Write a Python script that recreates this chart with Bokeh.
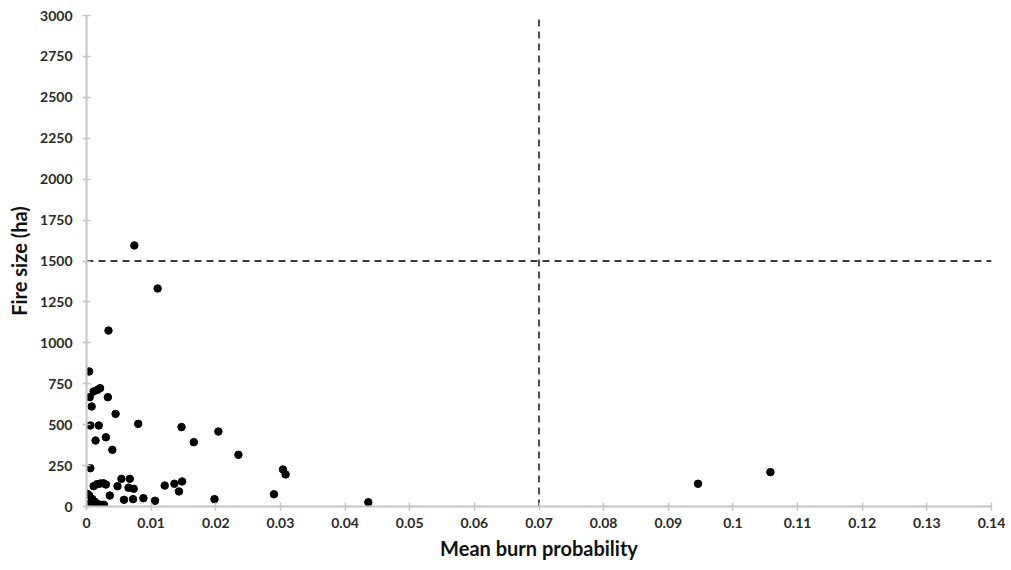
from bokeh.plotting import figure
from bokeh.models import Range1d, FixedTicker, ColumnDataSource
from bokeh.embed import file_html
from bokeh.resources import INLINE

# ---- data ----
burn_prob = [
    0.0004, 0.0005, 0.0011, 0.0017, 0.0021, 0.0033, 0.0008, 0.0045, 0.0006, 0.0019,
    0.0080, 0.0014, 0.0030, 0.0040, 0.0006, 0.0147, 0.0166, 0.0204, 0.0235, 0.0074,
    0.0110, 0.0034,
    0.0001, 0.0004, 0.0011, 0.0016, 0.0021, 0.0026, 0.0030, 0.0036, 0.0048, 0.0054,
    0.0067, 0.0065, 0.0073, 0.0058, 0.0072, 0.0088, 0.0106, 0.0121, 0.0136, 0.0143,
    0.0148, 0.0198, 0.0290, 0.0304, 0.0308, 0.0436, 0.0946, 0.1058,
    0.0000, 0.0005, 0.0009, 0.0013, 0.0018, 0.0024, 0.0027,
]
fire_size = [
    825, 668, 703, 713, 723, 668, 611, 566, 495, 495,
    505, 403, 423, 346, 234, 485, 393, 458, 316, 1595,
    1332, 1075,
    78, 68, 124, 136, 140, 142, 134, 67, 124, 169,
    169, 115, 108, 41, 45, 51, 35, 128, 139, 92,
    153, 45, 75, 226, 196, 26, 139, 210,
    14, 16, 45, 28, 14, 10, 10,
]

threshold_prob = 0.07
threshold_size = 1500

x_ticks = [0, 0.01, 0.02, 0.03, 0.04, 0.05, 0.06, 0.07, 0.08, 0.09, 0.1, 0.11, 0.12, 0.13, 0.14]
x_tick_labels = ["0", "0.01", "0.02", "0.03", "0.04", "0.05", "0.06", "0.07",
                 "0.08", "0.09", "0.1", "0.11", "0.12", "0.13", "0.14"]
y_ticks = [0, 250, 500, 750, 1000, 1250, 1500, 1750, 2000, 2250, 2500, 2750, 3000]

x_min, x_max = 0, 0.14
y_min, y_max = 0, 3000
v_line_top = 2980

FONT = "Lato"

p = figure(width=1008, height=566, output_backend="svg", toolbar_location=None,
           x_range=Range1d(x_min, x_max), y_range=Range1d(y_min, y_max),
           min_border_left=86, min_border_right=17, min_border_top=15, min_border_bottom=60)

p.xgrid.visible = False
p.ygrid.visible = False
p.outline_line_color = None
p.background_fill_color = "white"
p.border_fill_color = "white"

# threshold lines
p.segment(x0=[threshold_prob], y0=[y_min], x1=[threshold_prob], y1=[v_line_top],
          line_color="#3a3a3a", line_width=1.8, line_dash="7 5")
p.segment(x0=[x_min], y0=[threshold_size], x1=[x_max], y1=[threshold_size],
          line_color="#3a3a3a", line_width=1.8, line_dash="7 5")

src = ColumnDataSource(dict(x=burn_prob, y=fire_size))
p.scatter("x", "y", source=src, size=7.5, fill_color="black", line_color="black")

p.xaxis.ticker = FixedTicker(ticks=x_ticks)
p.xaxis.major_label_overrides = {t: l for t, l in zip(x_ticks, x_tick_labels)}
p.yaxis.ticker = FixedTicker(ticks=y_ticks)

for ax in (p.xaxis, p.yaxis):
    ax.axis_line_color = "#c4c4c4"
    ax.axis_line_width = 2
    ax.major_tick_line_color = "#c4c4c4"
    ax.major_tick_line_width = 1.5
    ax.major_tick_in = 4
    ax.major_tick_out = 4
    ax.minor_tick_line_color = None
    ax.major_label_text_font = FONT
    ax.major_label_text_font_size = "14px"
    ax.major_label_text_font_style = "bold"
    ax.major_label_text_color = "#2a2a2a"
    ax.axis_label_text_font = FONT
    ax.axis_label_text_font_size = "20px"
    ax.axis_label_text_font_style = "bold"
    ax.axis_label_text_color = "#111111"

p.xaxis.axis_label = "Mean burn probability"
p.yaxis.axis_label = "Fire size (ha)"
p.xaxis.major_label_standoff = 7
p.yaxis.major_label_standoff = 10
p.xaxis.axis_label_standoff = 5
p.yaxis.axis_label_standoff = 6

open("out.html", "w").write(file_html(p, INLINE))
